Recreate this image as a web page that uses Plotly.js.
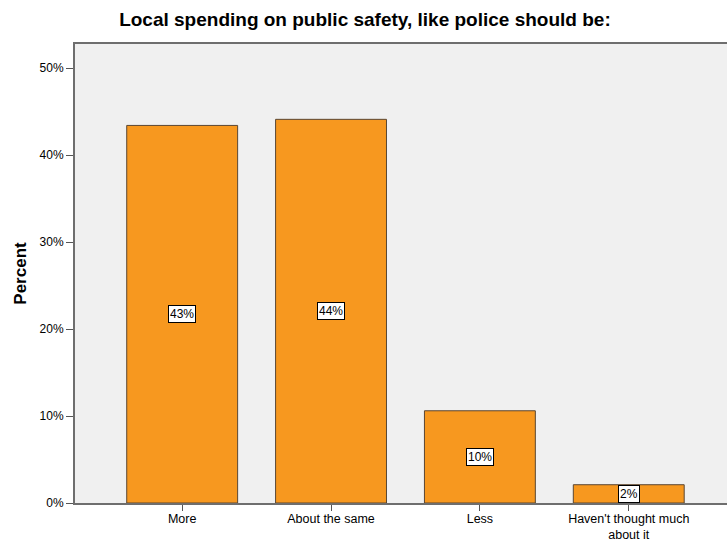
<!DOCTYPE html>
<html>
<head>
<meta charset="utf-8">
<script src="https://cdn.plot.ly/plotly-3.0.1.min.js"></script>
<style>html,body{margin:0;padding:0;background:#fff;}#chart{width:727px;height:541px;}</style>
</head>
<body>
<div id="chart"></div>
<script>
const categories = ["More", "About the same", "Less", "Haven't thought much<br>about it"];
const percents = [43.4, 44.1, 10.6, 2.1];
const labels = ["43%", "44%", "10%", "2%"];
const yTickVals = [0, 10, 20, 30, 40, 50];
const yTickText = ["0%", "10%", "20%", "30%", "40%", "50%"];

const FONT = 'Liberation Sans, Arial, sans-serif';

const trace = {
  type: 'bar',
  x: [0, 1, 2, 3],
  y: percents,
  width: 0.745,
  marker: {color: '#F7981F', line: {color: '#5a4632', width: 1}},
  hoverinfo: 'none'
};

const annotations = percents.map((v, i) => ({
  x: i, y: v / 2, xref: 'x', yref: 'y',
  text: labels[i], showarrow: false,
  font: {family: FONT, size: 12, color: '#000'},
  bgcolor: '#ffffff', bordercolor: '#000000', borderwidth: 1, borderpad: 1
}));

const layout = {
  width: 727, height: 541,
  margin: {l: 75, r: 0, t: 44, b: 38},
  paper_bgcolor: '#ffffff',
  plot_bgcolor: '#F0F0F0',
  title: {text: 'Local spending on public safety, like police should be:',
    font: {family: FONT, size: 19, color: '#000', weight: 'bold'},
    x: 0.502, xanchor: 'center', y: 0.965, yanchor: 'middle'},
  bargap: 0,
  showlegend: false,
  xaxis: {
    range: [-0.72, 3.66],
    tickvals: [0, 1, 2, 3], ticktext: categories,
    ticks: 'outside', ticklen: 6, tickcolor: '#555', tickwidth: 1,
    ticklabelstandoff: -3,
    showline: true, linecolor: '#6e6e6e', linewidth: 2, mirror: true,
    showgrid: false, zeroline: false,
    tickfont: {family: FONT, size: 12.5, color: '#000'}
  },
  yaxis: {
    range: [0, 52.76],
    tickvals: yTickVals, ticktext: yTickText,
    ticks: 'outside', ticklen: 7, tickcolor: '#555', tickwidth: 1,
    showline: true, linecolor: '#6e6e6e', linewidth: 2,
    showgrid: false, zeroline: false,
    tickfont: {family: FONT, size: 12, color: '#000'},
    title: {text: 'Percent', standoff: 9,
      font: {family: FONT, size: 17, color: '#000', weight: 'bold'}}
  },
  annotations: annotations
};

Plotly.newPlot('chart', [trace], layout, {displayModeBar: false, staticPlot: true});
</script>
</body>
</html>
